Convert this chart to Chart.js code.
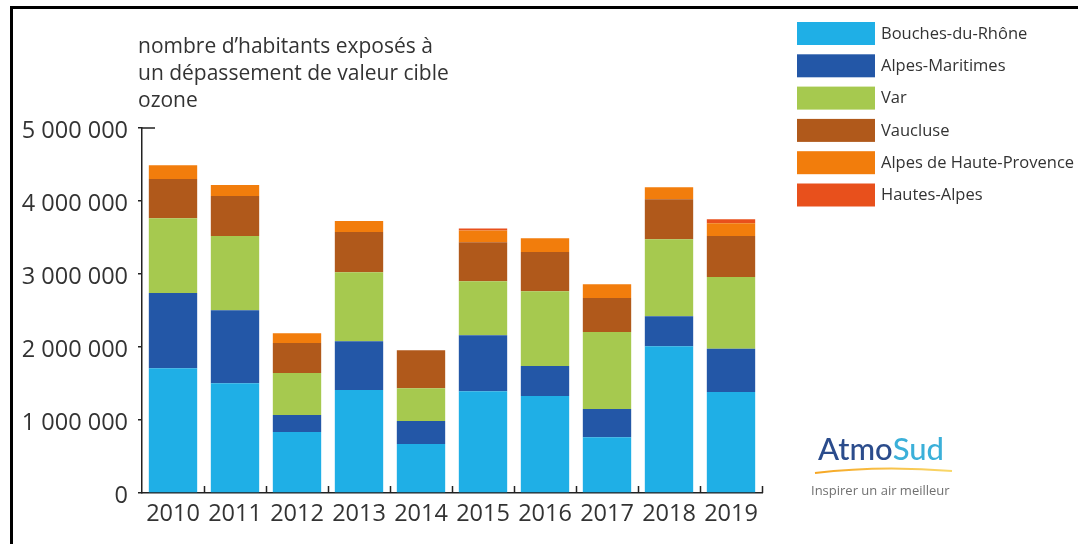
<!DOCTYPE html>
<html>
<head>
<meta charset="utf-8">
<script src="https://cdn.jsdelivr.net/npm/chart.js@4.4.1/dist/chart.umd.min.js"></script>
<style>
  html, body { margin: 0; padding: 0; background: #ffffff; }
  #wrap { position: relative; width: 1078px; height: 544px; overflow: hidden; }
  canvas { display: block; }
</style>
</head>
<body>
<div id="wrap"><canvas id="c" width="1078" height="544"></canvas></div>
<script>
// ---- Data ----
const years = ['2010','2011','2012','2013','2014','2015','2016','2017','2018','2019'];
const bouchesDuRhone = [1710000, 1505000, 835000, 1410000, 670000, 1395000, 1330000, 765000, 2010000, 1385000];
const alpesMaritimes = [1030000, 1000000, 235000, 670000, 315000, 765000, 410000, 385000, 410000, 590000];
const varDept        = [1025000, 1015000, 575000, 945000, 450000, 740000, 1025000, 1055000, 1055000, 985000];
const vaucluse       = [535000, 550000, 410000, 550000, 520000, 535000, 535000, 465000, 550000, 560000];
const alpesHauteProvence = [190000, 150000, 135000, 150000, 0, 160000, 190000, 190000, 165000, 175000];
const hautesAlpes    = [0, 0, 0, 0, 0, 30000, 0, 0, 0, 55000];
const seriesNames = ['Bouches-du-Rhône','Alpes-Maritimes','Var','Vaucluse','Alpes de Haute-Provence','Hautes-Alpes'];
const seriesColors = ['#1fafe6','#2357a7','#a6c94f','#b0591b','#f27d0c','#e8501c'];
const yTickValues = [0, 1000000, 2000000, 3000000, 4000000, 5000000];
const titleLines = ['nombre d\u2019habitants exposés à', 'un dépassement de valeur cible', 'ozone'];

const seriesValues = [bouchesDuRhone, alpesMaritimes, varDept, vaucluse, alpesHauteProvence, hautesAlpes];

function fmt(v) {
  return String(Math.round(v)).replace(/\B(?=(\d{3})+(?!\d))/g, ' ');
}

const FONT = "'Open Sans', 'Noto Sans', sans-serif";
const INK = '#222222';

const decorPlugin = {
  id: 'decor',
  afterDraw(chart) {
    const ctx = chart.ctx;
    const xs = chart.scales.x, ys = chart.scales.y;
    const ca = chart.chartArea;
    ctx.save();
    // frame (top and left)
    ctx.strokeStyle = '#000';
    ctx.lineWidth = 3;
    ctx.beginPath();
    ctx.moveTo(11.5, 544); ctx.lineTo(11.5, 7.5); ctx.lineTo(1078, 7.5);
    ctx.stroke();

    // inward x ticks at category boundaries
    ctx.strokeStyle = INK;
    ctx.lineWidth = 1.5;
    const n = years.length;
    const w = (ca.right - ca.left) / n;
    ctx.beginPath();
    for (let i = 1; i <= n; i++) {
      const x = Math.round(ca.left + i * w) + 0.5;
      ctx.moveTo(x, ca.bottom); ctx.lineTo(x, ca.bottom - 7);
    }
    // top stub on y axis
    const yTop = ys.getPixelForValue(5000000);
    ctx.moveTo(ca.left, yTop); ctx.lineTo(ca.left + 13, yTop);
    ctx.stroke();

    // axis title
    ctx.fillStyle = '#333';
    ctx.font = '21px ' + FONT;
    ctx.textAlign = 'left';
    ctx.textBaseline = 'alphabetic';
    titleLines.forEach((t, i) => ctx.fillText(t, 138, 53 + i * 27));

    // legend
    const ds = chart.data.datasets;
    ctx.font = '16.5px ' + FONT;
    ctx.textBaseline = 'middle';
    ds.forEach((d, i) => {
      const top = 22 + i * 32.3;
      ctx.fillStyle = d.backgroundColor;
      ctx.fillRect(797, top, 78, 23);
      ctx.fillStyle = '#333';
      ctx.fillText(d.label, 881, top + 12);
    });

    // AtmoSud logo
    ctx.textBaseline = 'alphabetic';
    ctx.font = '500 31px Lato, ' + FONT;
    ctx.fillStyle = '#2b4c8c';
    ctx.fillText('Atmo', 818, 460);
    const wA = ctx.measureText('Atmo').width;
    ctx.fillStyle = '#3bb0d9';
    ctx.fillText('Sud', 818 + wA, 460);
    const g = ctx.createLinearGradient(815, 0, 952, 0);
    g.addColorStop(0, '#f6a623'); g.addColorStop(1, '#f9d86a');
    ctx.strokeStyle = g;
    ctx.lineWidth = 2;
    ctx.beginPath();
    ctx.moveTo(815, 473);
    ctx.quadraticCurveTo(880, 465, 952, 471);
    ctx.stroke();
    ctx.fillStyle = '#707070';
    ctx.font = '13px ' + FONT;
    ctx.fillText('Inspirer un air meilleur', 811, 495);
    ctx.restore();
  }
};

new Chart(document.getElementById('c'), {
  type: 'bar',
  data: {
    labels: years,
    datasets: seriesNames.map((name, i) => ({
      label: name,
      data: seriesValues[i],
      backgroundColor: seriesColors[i],
      borderWidth: 0,
      barPercentage: 0.78,
      categoryPercentage: 1.0
    }))
  },
  options: {
    responsive: false,
    animation: false,
    devicePixelRatio: 1,
    layout: { padding: { left: 0, right: 316, top: 128, bottom: 0 } },
    plugins: { legend: { display: false }, title: { display: false }, tooltip: { enabled: false } },
    scales: {
      x: {
        stacked: true,
        afterFit(s) { s.height = 51; },
        grid: { display: true, drawOnChartArea: false, drawTicks: false, color: 'rgba(0,0,0,0)' },
        border: { display: true, color: INK, width: 1.5 },
        ticks: { color: '#333', font: { family: FONT, size: 23.5 }, padding: 7 }
      },
      y: {
        stacked: true,
        min: 0, max: 5000000,
        afterFit(s) { s.width = 142; },
        afterBuildTicks(s) { s.ticks = yTickValues.map(v => ({ value: v })); },
        grid: { display: true, drawOnChartArea: false, drawTicks: true, tickLength: 4, color: INK, lineWidth: 1.5 },
        border: { display: true, color: INK, width: 1.5 },
        ticks: { color: '#333', font: { family: FONT, size: 23.5 }, padding: 10, labelOffset: 3, callback: v => fmt(v) }
      }
    }
  },
  plugins: [decorPlugin]
});
</script>
</body>
</html>
